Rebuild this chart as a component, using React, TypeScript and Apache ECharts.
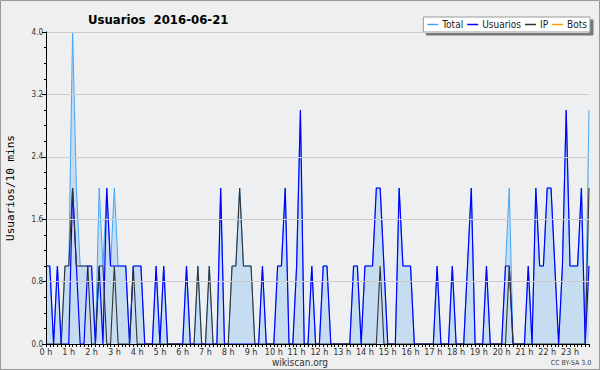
import React, { useEffect, useRef } from "react";
import * as echarts from "echarts";

const hourNums = [0, 1, 2, 3, 4, 5, 6, 7, 8, 9, 10, 11, 12, 13, 14, 15, 16, 17, 18, 19, 20, 21, 22, 23];
const minuteSlots = ["00", "10", "20", "30", "40", "50"];
const yTicks = [0, 0.8, 1.6, 2.4, 3.2, 4.0];

// 10-minute slots, 144 per day
const usuarios = [
  1, 1, 0, 1, 0, 0, 0, 2, 1, 0, 0, 1, 1, 0, 1, 0, 2, 1, 1, 1, 1, 1, 0, 1,
  1, 1, 0, 0, 0, 1, 0, 1, 0, 0, 0, 0, 0, 1, 0, 0, 0, 0, 0, 0, 0, 0, 2, 0,
  0, 0, 0, 0, 0, 0, 0, 0, 0, 1, 0, 0, 0, 1, 1, 2, 0, 0, 1, 3, 0, 0, 1, 0,
  0, 1, 1, 0, 0, 0, 0, 0, 0, 1, 1, 0, 1, 1, 1, 2, 2, 1, 0, 0, 0, 2, 1, 1,
  1, 0, 0, 0, 0, 0, 0, 1, 0, 0, 0, 1, 0, 0, 0, 1, 2, 0, 0, 0, 1, 0, 0, 0,
  0, 1, 1, 0, 0, 0, 0, 1, 0, 2, 1, 1, 2, 2, 1, 0, 1, 3, 1, 1, 1, 2, 0, 1,
];
const ip = [
  0, 0, 0, 0, 0, 1, 1, 2, 1, 1, 1, 1, 0, 0, 1, 1, 0, 0, 1, 0, 0, 0, 0, 1,
  0, 0, 0, 0, 0, 0, 0, 0, 0, 0, 0, 0, 0, 0, 0, 0, 1, 0, 0, 1, 0, 0, 0, 0,
  0, 1, 1, 2, 1, 1, 1, 0, 0, 0, 0, 0, 0, 0, 0, 0, 0, 0, 0, 0, 0, 0, 0, 0,
  0, 0, 0, 0, 0, 0, 0, 0, 0, 0, 0, 0, 0, 0, 0, 0, 1, 0, 0, 0, 0, 0, 0, 0,
  0, 0, 0, 0, 0, 0, 0, 0, 0, 0, 0, 0, 0, 0, 0, 0, 0, 0, 0, 0, 0, 0, 0, 0,
  0, 0, 1, 0, 0, 0, 0, 0, 0, 0, 0, 0, 0, 0, 0, 0, 0, 0, 0, 0, 0, 0, 0, 2,
];
const total = [
  1, 1, 0, 1, 0, 1, 1, 4, 2, 1, 1, 1, 1, 0, 2, 1, 2, 1, 2, 1, 1, 1, 0, 1,
  1, 1, 0, 0, 0, 1, 0, 1, 0, 0, 0, 0, 0, 1, 0, 0, 1, 0, 0, 1, 0, 0, 2, 0,
  0, 1, 1, 2, 1, 1, 1, 0, 0, 1, 0, 0, 0, 1, 1, 2, 0, 0, 1, 3, 0, 0, 1, 0,
  0, 1, 1, 0, 0, 0, 0, 0, 0, 1, 1, 0, 1, 1, 1, 2, 2, 1, 0, 0, 0, 2, 1, 1,
  1, 0, 0, 0, 0, 0, 0, 1, 0, 0, 0, 1, 0, 0, 0, 1, 2, 0, 0, 0, 1, 0, 0, 0,
  0, 1, 2, 0, 0, 0, 0, 1, 0, 2, 1, 1, 2, 2, 1, 0, 1, 3, 1, 1, 1, 2, 0, 3,
];
const bots = [
  0, 0, 0, 0, 0, 0, 0, 0, 0, 0, 0, 0, 0, 0, 0, 0, 0, 0, 0, 0, 0, 0, 0, 0,
  0, 0, 0, 0, 0, 0, 0, 0, 0, 0, 0, 0, 0, 0, 0, 0, 0, 0, 0, 0, 0, 0, 0, 0,
  0, 0, 0, 0, 0, 0, 0, 0, 0, 0, 0, 0, 0, 0, 0, 0, 0, 0, 0, 0, 0, 0, 0, 0,
  0, 0, 0, 0, 0, 0, 0, 0, 0, 0, 0, 0, 0, 0, 0, 0, 0, 0, 0, 0, 0, 0, 0, 0,
  0, 0, 0, 0, 0, 0, 0, 0, 0, 0, 0, 0, 0, 0, 0, 0, 0, 0, 0, 0, 0, 0, 0, 0,
  0, 0, 0, 0, 0, 0, 0, 0, 0, 0, 0, 0, 0, 0, 0, 0, 0, 0, 0, 0, 0, 0, 0, 0,
];

const categories = hourNums.flatMap((h) => minuteSlots.map((m) => `${h}:${m}`));

const COND = "'DejaVu Sans Condensed', 'DejaVu Sans', sans-serif";

export default function App() {
  const ref = useRef<HTMLDivElement>(null);
  useEffect(() => {
    if (!ref.current) return;
    const chart = echarts.init(ref.current, null, { renderer: "svg" });
    chart.setOption({
      animation: false,
      backgroundColor: "#efefef",
      title: {
        text: "Usuarios  2016-06-21",
        left: 83,
        top: 8,
        textStyle: { fontFamily: COND, fontSize: 13, fontWeight: "bold", color: "#000" },
      },
      legend: {
        data: ["Total", "Usuarios", "IP", "Bots"],
        right: 10,
        top: 17,
        icon: "rect",
        itemWidth: 11,
        itemHeight: 1.5,
        itemGap: 4,
        padding: [2, 3, 2, 4],
        backgroundColor: "#ffffff",
        borderColor: "#999999",
        borderWidth: 1,
        shadowColor: "#777777",
        shadowOffsetX: 3,
        shadowOffsetY: 3,
        shadowBlur: 0,
        textStyle: { fontFamily: COND, fontSize: 10, color: "#222", padding: [0, 0, 0, -1], lineHeight: 11 },
      },
      grid: {
        left: 46,
        right: 11,
        top: 32,
        bottom: 26,
        outerBoundsMode: "none",
        containLabel: false,
        backgroundColor: "#eeeff1",
        show: true,
        borderWidth: 0,
      },
      xAxis: {
        type: "category",
        data: categories,
        boundaryGap: false,
        z: 10,
        axisLine: { lineStyle: { color: "#000", width: 1 } },
        axisTick: { interval: 0, length: 3, lineStyle: { color: "#000" } },
        axisLabel: {
          interval: (idx: number) => idx % 6 === 0,
          formatter: (v: string) => `${v.split(":")[0]} h`,
          fontFamily: COND,
          fontSize: 9,
          color: "#333",
          margin: 3,
        },
        splitLine: { show: false },
      },
      yAxis: {
        type: "value",
        min: yTicks[0],
        max: yTicks[yTicks.length - 1],
        interval: 0.8,
        z: 10,
        name: "Usuarios/10 mins",
        nameLocation: "middle",
        nameGap: 30,
        nameTextStyle: { fontFamily: "'DejaVu Sans Mono', monospace", fontSize: 11, color: "#000" },
        axisLine: { show: true, lineStyle: { color: "#000", width: 1 } },
        axisTick: { show: true, length: 4, lineStyle: { color: "#000" } },
        minorTick: { show: true, splitNumber: 4, length: 2, lineStyle: { color: "#000" } },
        axisLabel: {
          formatter: (v: number) => v.toFixed(1),
          fontFamily: COND,
          fontSize: 8,
          color: "#333",
          margin: 3,
        },
        splitLine: { show: true, lineStyle: { color: "#cccccc", width: 1 } },
      },
      series: [
        {
          name: "Total",
          type: "line",
          data: total,
          symbol: "none",
          z: 2,
          lineStyle: { color: "#44a6f6", width: 1 },
          itemStyle: { color: "#44a6f6" },
          areaStyle: { color: "#c6dcf0", opacity: 1 },
        },
        {
          name: "Usuarios",
          type: "line",
          data: usuarios,
          symbol: "none",
          z: 3,
          lineStyle: { color: "#0000ff", width: 1.2 },
          itemStyle: { color: "#0000ff" },
        },
        {
          name: "IP",
          type: "line",
          data: ip,
          symbol: "none",
          z: 4,
          lineStyle: { color: "#333333", width: 1.1 },
          itemStyle: { color: "#333333" },
        },
        {
          name: "Bots",
          type: "line",
          data: bots,
          symbol: "none",
          z: 1,
          lineStyle: { color: "#ff9900", width: 1 },
          itemStyle: { color: "#ff9900" },
        },
      ],
      graphic: [
        {
          type: "rect",
          shape: { x: 0.5, y: 0.5, width: 599, height: 369 },
          style: { fill: "none", stroke: "#999999", lineWidth: 1 },
          silent: true,
        },
        {
          type: "text",
          x: 300,
          y: 362,
          style: {
            text: "wikiscan.org",
            fontFamily: COND,
            fontSize: 10,
            fill: "#333",
            textAlign: "center",
            textVerticalAlign: "middle",
          },
        },
        {
          type: "text",
          x: 571,
          y: 363,
          style: {
            text: "CC BY-SA 3.0",
            fontFamily: COND,
            fontSize: 7,
            fill: "#444",
            textAlign: "center",
            textVerticalAlign: "middle",
          },
        },
      ],
    });
    return () => chart.dispose();
  }, []);
  return (
    <div style={{ position: "fixed", left: 0, top: 0, width: 600, height: 370 }}>
      <div ref={ref} style={{ width: 600, height: 370 }} />
    </div>
  );
}
